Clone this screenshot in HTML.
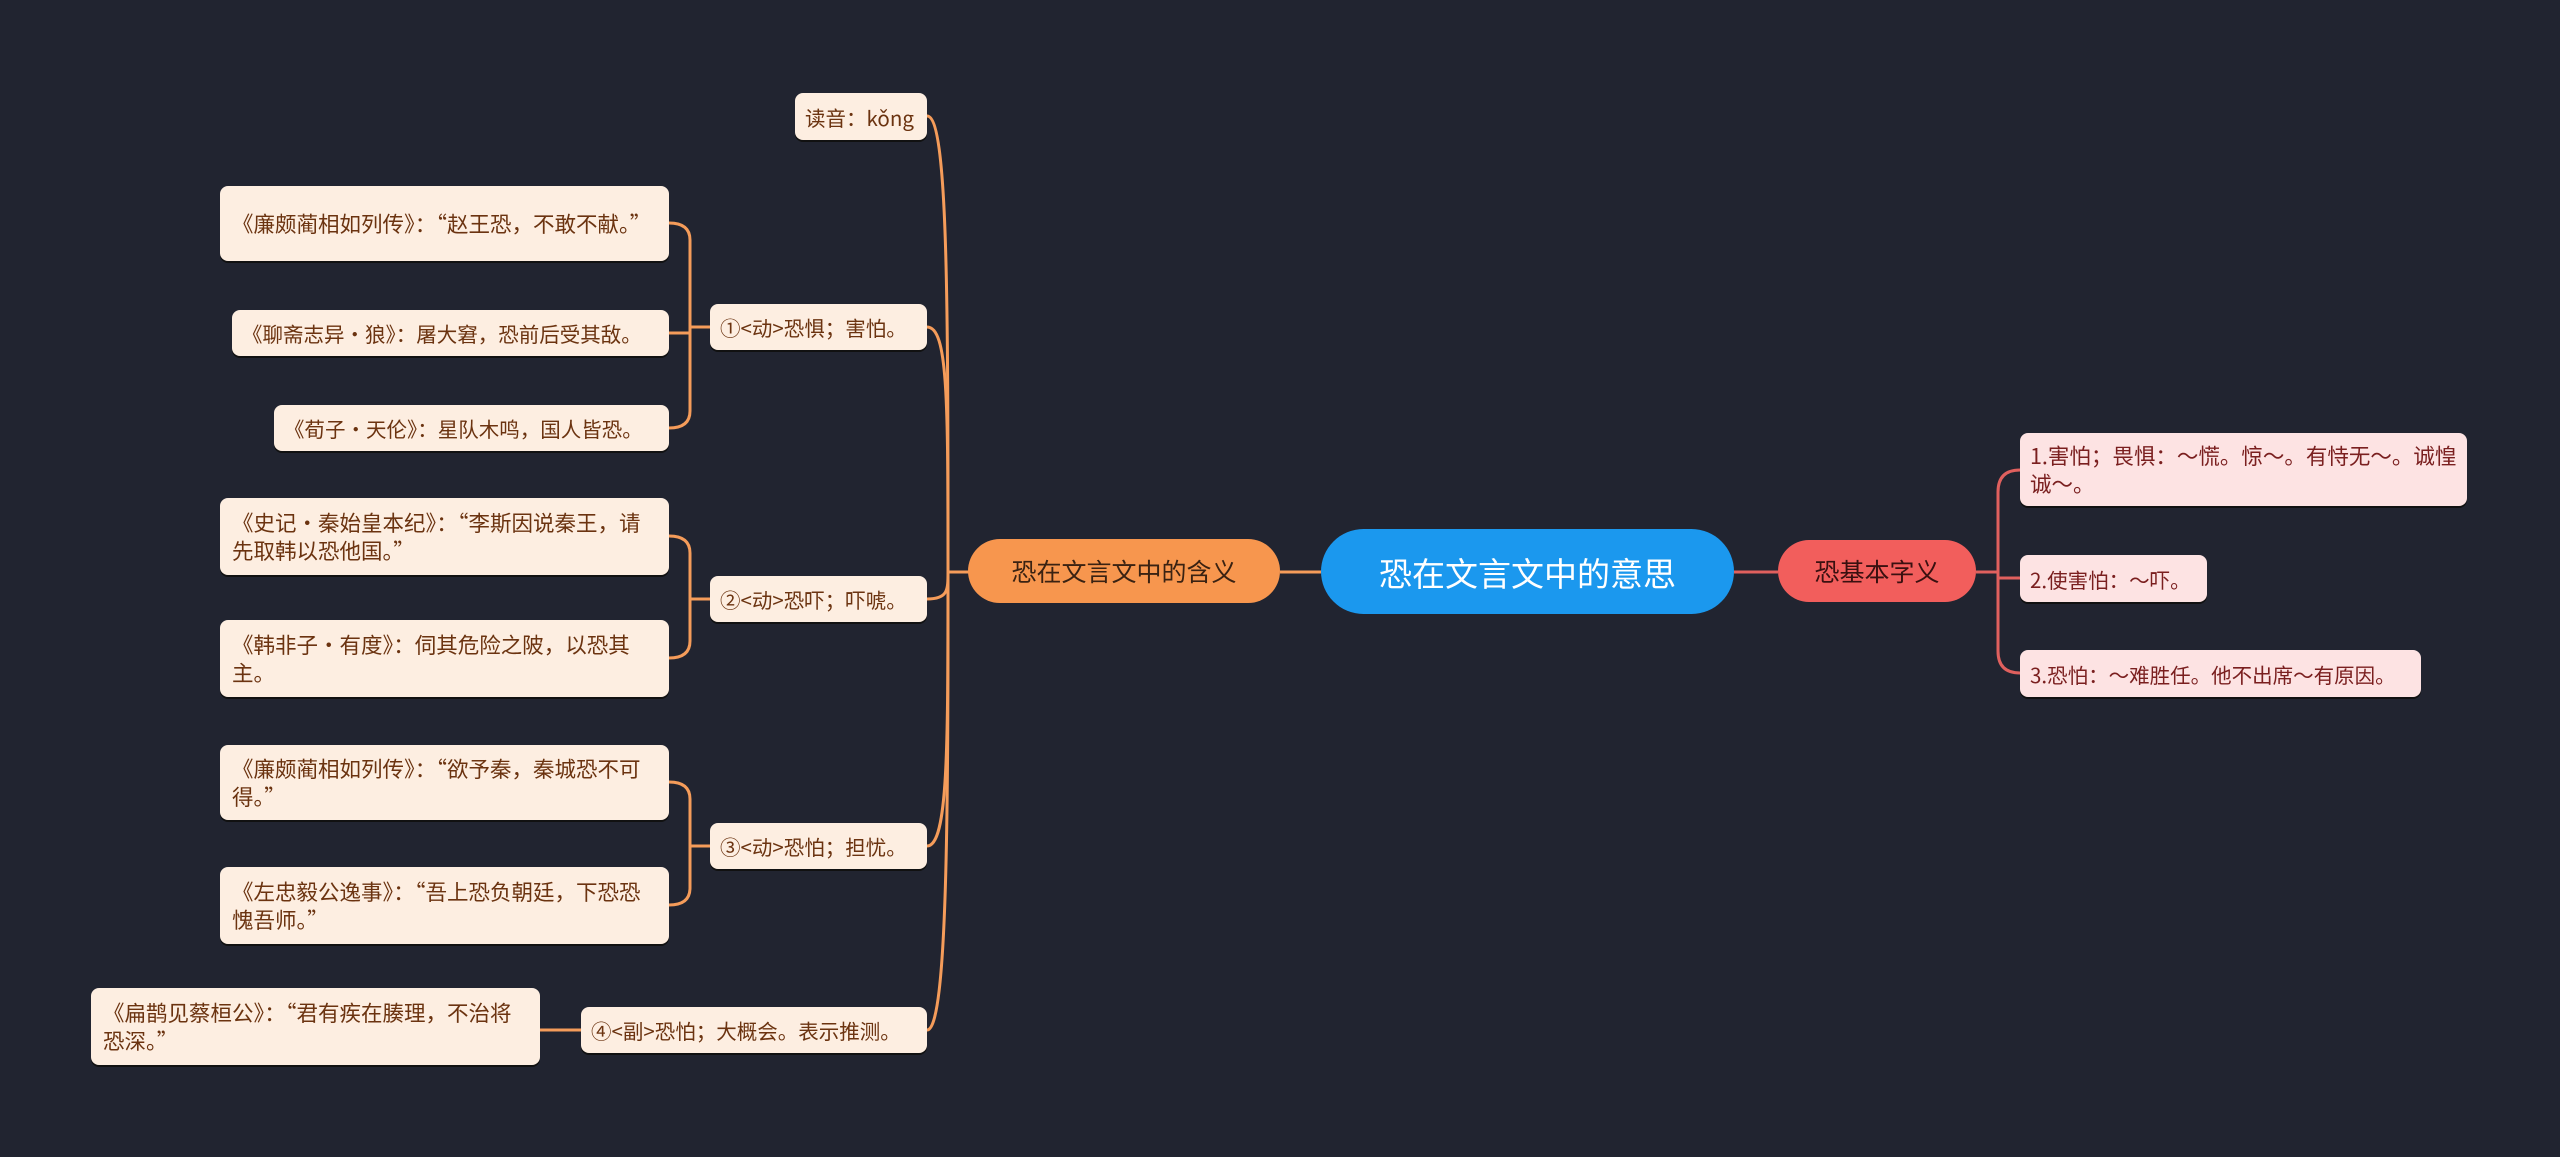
<!DOCTYPE html>
<html><head><meta charset="utf-8"><style>
body{margin:0;width:2560px;height:1157px;background:#212430;position:relative;overflow:hidden;font-family:"Liberation Sans","Noto Sans CJK SC",sans-serif}
.n{position:absolute;box-sizing:border-box;display:flex;align-items:center}
.leaf{background:#fdeee1;color:#6b3310;border-radius:8px;font-size:21.5px;line-height:28px;padding:0 10px 0 12px;box-shadow:0 2px 0 #111;font-family:"Noto Sans CJK SC",sans-serif}
.pk{background:#fde3e3;color:#7a1f1f;border-radius:8px;font-size:21.5px;line-height:28px;padding:0 8px 0 10px;box-shadow:0 2px 0 #111;font-family:"Noto Sans CJK SC",sans-serif}
.one{white-space:nowrap;font-size:20.5px;padding:0 6px 0 10px}
</style></head><body>
<svg width="2560" height="1157" style="position:absolute;left:0;top:0" fill="none">
<g stroke="#f59c5a" stroke-width="3">
<path d="M1280 572 H1321"/>
<path d="M970 572 H948"/>
<path d="M948 572 C948 300 948 116 927 116"/>
<path d="M948 572 C948 400 948 327 927 327"/>
<path d="M948 572 C948 590 948 599 927 599"/>
<path d="M948 572 C948 750 948 846 927 846"/>
<path d="M948 572 C948 800 948 1030 927 1030"/>
<path d="M710 327 H690"/>
<path d="M669 223 Q690 223 690 240 V411 Q690 428 669 428"/>
<path d="M669 333 H690"/>
<path d="M710 599 H690"/>
<path d="M669 536 Q690 536 690 553 V641 Q690 658 669 658"/>
<path d="M710 846 H690"/>
<path d="M669 782 Q690 782 690 799 V888 Q690 905 669 905"/>
<path d="M581 1030 H540"/>
</g>
<g stroke="#e0605e" stroke-width="3">
<path d="M1734 572 H1778"/>
<path d="M1976 572 H1998"/>
<path d="M2020 470 Q1998 470 1998 492 V651 Q1998 673 2020 673"/>
<path d="M1998 578 H2020"/>
</g>
</svg>
<div class="n" style="left:1321px;top:529px;width:413px;height:85px;background:#1b98ee;border-radius:43px;color:#fff;font-size:33px;justify-content:center">恐在文言文中的意思</div>
<div class="n" style="left:968px;top:539px;width:312px;height:64px;background:#f7964e;border-radius:32px;color:#3a2212;font-size:25px;justify-content:center">恐在文言文中的含义</div>
<div class="n" style="left:1778px;top:540px;width:198px;height:62px;background:#f25e5c;border-radius:31px;color:#3a1010;font-size:25px;justify-content:center">恐基本字义</div>

<div class="n pk" style="left:2020px;top:433px;width:447px;height:73px">1.害怕；畏惧：～慌。惊～。有恃无～。诚惶诚～。</div>
<div class="n pk one" style="left:2020px;top:555px;width:187px;height:47px">2.使害怕：～吓。</div>
<div class="n pk one" style="left:2020px;top:650px;width:401px;height:47px">3.恐怕：～难胜任。他不出席～有原因。</div>

<div class="n leaf one" style="left:795px;top:93px;width:132px;height:47px">读音：kǒng</div>
<div class="n leaf one" style="left:710px;top:304px;width:217px;height:46px">①&lt;动&gt;恐惧；害怕。</div>
<div class="n leaf one" style="left:710px;top:576px;width:217px;height:46px">②&lt;动&gt;恐吓；吓唬。</div>
<div class="n leaf one" style="left:710px;top:823px;width:217px;height:46px">③&lt;动&gt;恐怕；担忧。</div>
<div class="n leaf one" style="left:581px;top:1007px;width:346px;height:46px">④&lt;副&gt;恐怕；大概会。表示推测。</div>

<div class="n leaf" style="left:220px;top:186px;width:449px;height:75px">《廉颇蔺相如列传》：“赵王恐，不敢不献。”</div>
<div class="n leaf one" style="left:232px;top:310px;width:437px;height:46px">《聊斋志异·狼》：屠大窘，恐前后受其敌。</div>
<div class="n leaf one" style="left:274px;top:405px;width:395px;height:46px">《荀子·天伦》：星队木鸣，国人皆恐。</div>
<div class="n leaf" style="left:220px;top:498px;width:449px;height:77px">《史记·秦始皇本纪》：“李斯因说秦王，请先取韩以恐他国。”</div>
<div class="n leaf" style="left:220px;top:620px;width:449px;height:77px">《韩非子·有度》：伺其危险之陂，以恐其主。</div>
<div class="n leaf" style="left:220px;top:745px;width:449px;height:75px">《廉颇蔺相如列传》：“欲予秦，秦城恐不可得。”</div>
<div class="n leaf" style="left:220px;top:867px;width:449px;height:77px">《左忠毅公逸事》：“吾上恐负朝廷，下恐恐愧吾师。”</div>
<div class="n leaf" style="left:91px;top:988px;width:449px;height:77px">《扁鹊见蔡桓公》：“君有疾在腠理，不治将恐深。”</div>
</body></html>
